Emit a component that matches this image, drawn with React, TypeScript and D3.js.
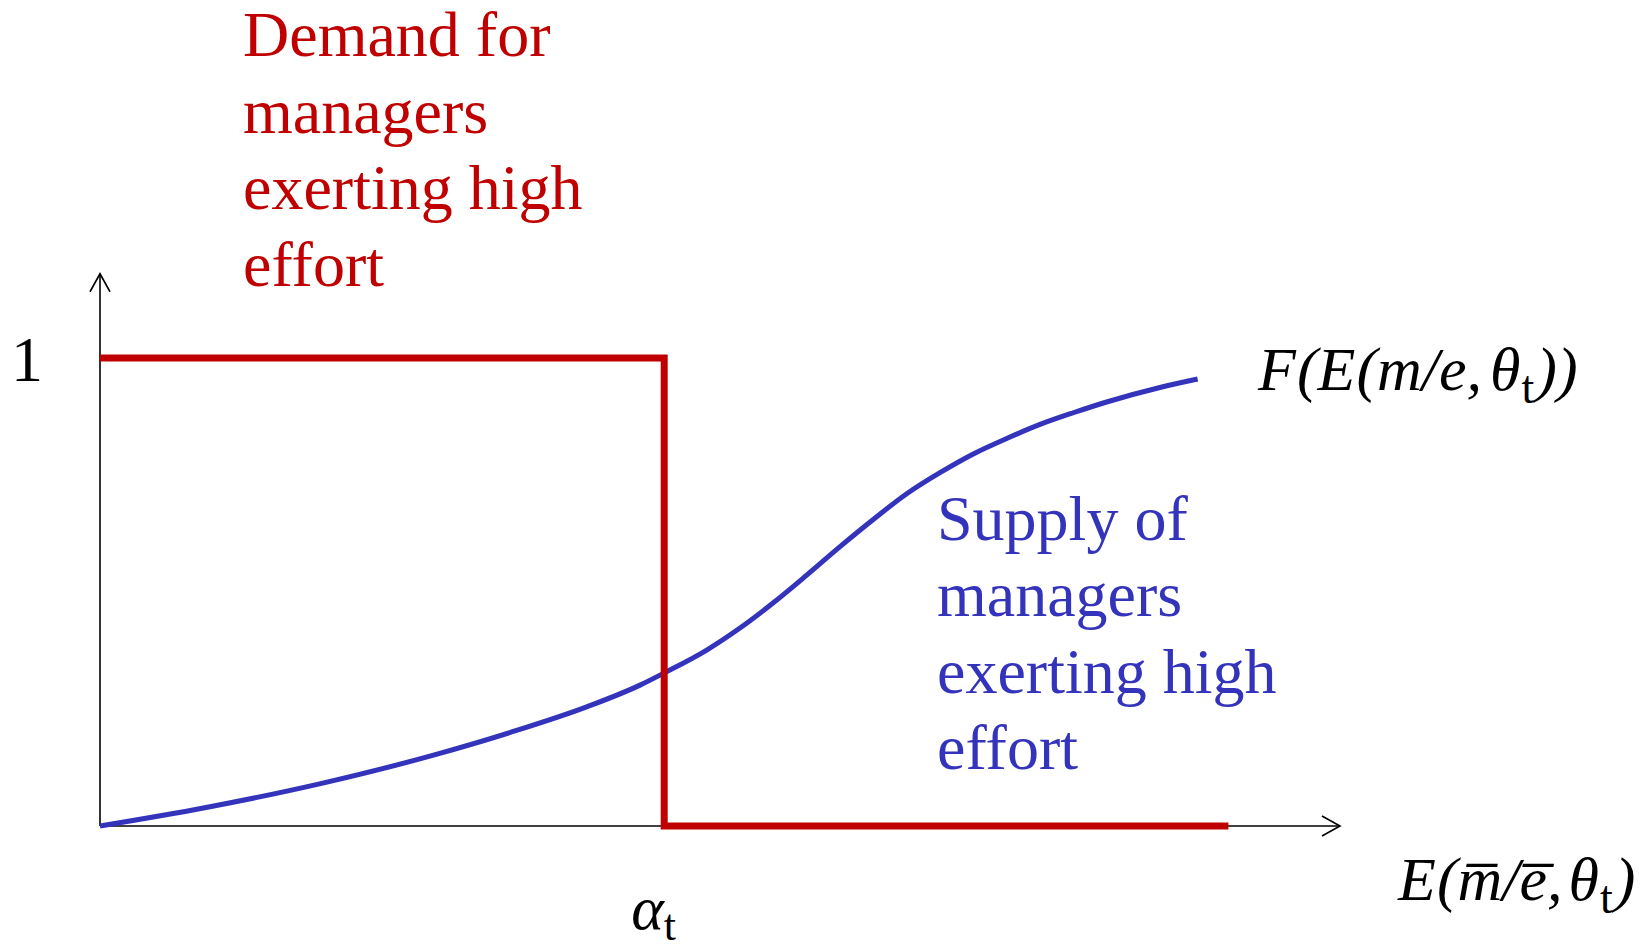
import React from "react";
import * as d3 from "d3";

// ---- data ----
const demandX = [0, 45.5, 45.5, 91];
const demandY = [1, 1, 0, 0];
const supplyX = [0, 8.45, 17.7, 26.97, 33.1, 39.3, 43.55, 45.5, 48.93, 51.61, 54.3, 56.99, 59.68, 62.36, 65.06, 67.74, 70.43, 73.12, 75.81, 78.49, 81.18, 85.48, 88.52];
const supplyY = [0, 0.039, 0.09, 0.152, 0.2, 0.255, 0.301, 0.327, 0.376, 0.423, 0.477, 0.536, 0.597, 0.655, 0.71, 0.755, 0.795, 0.828, 0.858, 0.883, 0.906, 0.937, 0.955];
const demandLabel = ["Demand for", "managers", "exerting high", "effort"];
const supplyLabel = ["Supply of", "managers", "exerting high", "effort"];
const alphaValue = 45.5;
const yTickValue = 1;
const xAxisMax = 100;
const yAxisMax = 1.18;

const W = 1644;
const H = 949;
const RED = "#C00000";
const BLUE = "#3333BB";
const FONT = "'Liberation Serif', 'Times New Roman', serif";

export default function App() {
  const x = d3.scaleLinear().domain([0, xAxisMax]).range([100, 1340]);
  const y = d3.scaleLinear().domain([0, 1]).range([826, 358]);

  const demandPts: [number, number][] = demandX.map((d, i) => [d, demandY[i]]);
  const supplyPts: [number, number][] = supplyX.map((d, i) => [d, supplyY[i]]);

  const lin = d3
    .line<[number, number]>()
    .x((d) => x(d[0]))
    .y((d) => y(d[1]));
  const smooth = d3
    .line<[number, number]>()
    .x((d) => x(d[0]))
    .y((d) => y(d[1]))
    .curve(d3.curveMonotoneX);

  const x0 = x(0);
  const y0 = y(0);
  const yTop = y(yAxisMax);
  const xEnd = x(xAxisMax);

  const mathSize = 62;
  const subSize = 46;

  return (
    <svg
      width={W}
      height={H}
      viewBox={`0 0 ${W} ${H}`}
      style={{ position: "absolute", left: 0, top: 0, display: "block", background: "#fff" }}
    >
      <rect x={0} y={0} width={W} height={H} fill="#fff" />
      {/* axes */}
      <g stroke="#000" strokeWidth={1.6} fill="none">
        <line x1={x0} y1={y0} x2={x0} y2={yTop} />
        <polyline points={`${x0 - 10},${yTop + 18} ${x0},${yTop} ${x0 + 10},${yTop + 18}`} />
        <line x1={x0} y1={y0} x2={xEnd} y2={y0} />
        <polyline points={`${xEnd - 18},${y0 - 10} ${xEnd},${y0} ${xEnd - 18},${y0 + 10}`} />
      </g>

      {/* supply curve */}
      <path d={smooth(supplyPts) || ""} fill="none" stroke={BLUE} strokeWidth={5} />
      {/* demand step */}
      <path d={lin(demandPts) || ""} fill="none" stroke={RED} strokeWidth={7} strokeLinejoin="miter" />

      {/* y tick label */}
      <text x={11} y={y(yTickValue) + 23} fontFamily={FONT} fontSize={64} fill="#000">
        {String(yTickValue)}
      </text>

      {/* demand label */}
      <text fontFamily={FONT} fontSize={64} fill={RED}>
        {demandLabel.map((t, i) => (
          <tspan key={i} x={243} y={56 + i * 76.5}>
            {t}
          </tspan>
        ))}
      </text>

      {/* supply label */}
      <text fontFamily={FONT} fontSize={64} fill={BLUE}>
        {supplyLabel.map((t, i) => (
          <tspan key={i} x={937} y={540 + i * 76.3}>
            {t}
          </tspan>
        ))}
      </text>

      {/* F(E(m/e, θt)) */}
      <text x={1258} y={390} fontFamily={FONT} fontSize={mathSize} fontStyle="italic" fill="#000">
        <tspan>F</tspan>
        <tspan dx={1}>(</tspan>
        <tspan>E</tspan>
        <tspan dx={1}>(</tspan>
        <tspan>m</tspan>
        <tspan>/</tspan>
        <tspan>e</tspan>
        <tspan>,</tspan>
        <tspan dx={8}>θ</tspan>
        <tspan fontStyle="normal" fontSize={subSize} dx={1} dy={13}>t</tspan>
        <tspan dx={2} dy={-13}>))</tspan>
      </text>

      {/* x axis label E(m̄/ē, θt) */}
      <text x={1398} y={900} fontFamily={FONT} fontSize={mathSize} fontStyle="italic" fill="#000">
        <tspan>E</tspan>
        <tspan dx={1}>(</tspan>
        <tspan>{"m\u0305"}</tspan>
        <tspan>/</tspan>
        <tspan>{"e\u0305"}</tspan>
        <tspan>,</tspan>
        <tspan dx={6}>θ</tspan>
        <tspan fontStyle="normal" fontSize={subSize} dx={1} dy={13}>t</tspan>
        <tspan dx={2} dy={-13}>)</tspan>
      </text>

      {/* alpha_t */}
      <text x={x(alphaValue) - 33} y={929} fontFamily={FONT} fontSize={mathSize} fontStyle="italic" fill="#000">
        <tspan>α</tspan>
        <tspan fontStyle="normal" fontSize={44} dy={11}>t</tspan>
      </text>
    </svg>
  );
}
